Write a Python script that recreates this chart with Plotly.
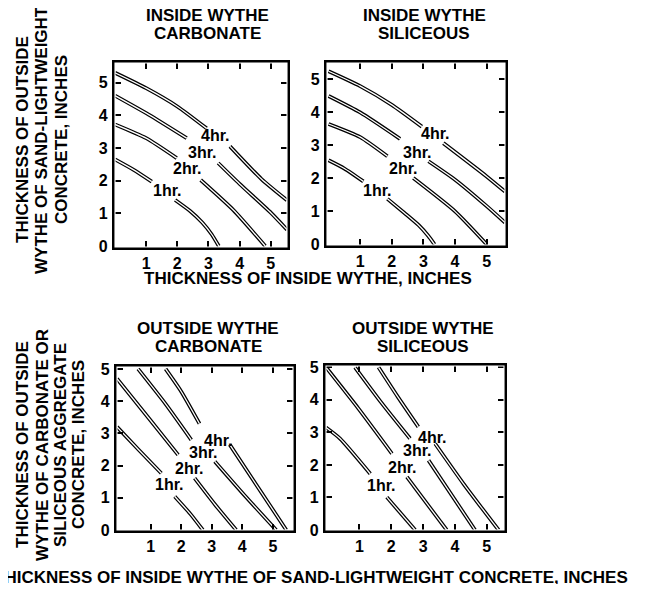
import plotly.graph_objects as go

# The page places the figure 8 px from the top-left corner of the window.
OFF = 8
W, H = 632, 576

hour_labels = ["1hr.", "2hr.", "3hr.", "4hr."]
x_ticks = [1, 2, 3, 4, 5]
y_ticks = [0, 1, 2, 3, 4, 5]

panel_titles = [("INSIDE WYTHE", "CARBONATE"), ("INSIDE WYTHE", "SILICEOUS"),
                ("OUTSIDE WYTHE", "CARBONATE"), ("OUTSIDE WYTHE", "SILICEOUS")]

# ---- Top-left: inside wythe carbonate (each curve = two segments split at its label)
tl_1hr = [[(0, 2.65), (0.6, 2.33), (1.18, 1.97)],
          [(1.93, 1.41), (2.4, 1.08), (2.8, 0.72), (3.1, 0.36), (3.33, 0)]]
tl_2hr = [[(0, 3.72), (1.0, 3.3), (1.98, 2.69)], [(2.75, 2.02), (3.8, 1.1), (4.82, 0)]]
tl_3hr = [[(0, 4.6), (1.08, 4.02), (2.3, 3.3)], [(3.31, 2.54), (4.0, 1.9), (5.0, 1.02), (5.52, 0.5)]]
tl_4hr = [[(0, 5.3), (1.0, 4.83), (2.0, 4.27), (2.94, 3.6)], [(3.69, 3.05), (4.7, 2.05), (5.52, 1.4)]]
tl_label_x = [1.66, 2.3, 2.8, 3.2]
tl_label_y = [1.70, 2.36, 2.87, 3.38]

# ---- Top-right: inside wythe siliceous
tr_1hr = [[(0, 2.55), (0.5, 2.3), (1.1, 1.91)],
          [(1.86, 1.38), (2.4, 0.95), (2.85, 0.58), (3.15, 0.26), (3.35, 0)]]
tr_2hr = [[(0, 3.65), (1.0, 3.25), (1.86, 2.67)], [(2.68, 2.01), (4.0, 1.0), (5.0, 0)]]
tr_3hr = [[(0, 4.5), (1.0, 4.0), (2.26, 3.2)], [(3.16, 2.52), (4.0, 1.96), (5.0, 1.16), (5.58, 0.66)]]
tr_4hr = [[(0, 5.25), (1.0, 4.8), (2.0, 4.23), (2.95, 3.57)], [(3.63, 3.07), (5.0, 2.06), (5.58, 1.6)]]
tr_label_x = [1.53, 2.34, 2.79, 3.37]
tr_label_y = [1.64, 2.29, 2.80, 3.35]

# ---- Bottom-left: outside wythe carbonate
bl_1hr = [[(-0.1, 3.2), (0.6, 2.5), (1.35, 1.76)], [(1.79, 1.04), (2.3, 0.5), (2.71, 0)]]
bl_2hr = [[(-0.1, 4.7), (1.0, 3.4), (1.9, 2.33)], [(2.44, 1.61), (3.1, 0.8), (3.8, 0)]]
bl_3hr = [[(0.59, 5.0), (1.5, 3.9), (2.33, 2.8)], [(3.1, 2.13), (4.1, 1.05), (5.11, 0)]]
bl_4hr = [[(1.49, 5.0), (2.0, 4.3), (2.6, 3.3)], [(3.59, 2.65), (4.35, 1.56), (5.44, 0)]]
bl_label_x = [1.59, 2.25, 2.71, 3.2]
bl_label_y = [1.40, 1.92, 2.42, 2.78]

# ---- Bottom-right: outside wythe siliceous
br_1hr = [[(-0.05, 3.15), (0.39, 2.81), (1.34, 1.73)], [(1.86, 1.01), (2.75, 0)]]
br_2hr = [[(-0.05, 5.0), (0.97, 3.73), (2.02, 2.35)], [(2.49, 1.63), (3.74, 0)]]
br_3hr = [[(0.86, 5.0), (1.7, 3.9), (2.59, 2.81)], [(3.17, 2.14), (4.63, 0)]]
br_4hr = [[(1.6, 5.0), (2.2, 4.1), (2.85, 3.17)], [(3.38, 2.65), (4.27, 1.42), (5.37, 0)]]
br_label_x = [1.67, 2.35, 2.82, 3.29]
br_label_y = [1.37, 1.93, 2.43, 2.84]

panels = [
    dict(curves=[tl_1hr, tl_2hr, tl_3hr, tl_4hr], lx=tl_label_x, ly=tl_label_y,
         xr=[0, 5.52], yr=[-0.03, 5.6], box=(115, 287, 63, 247), title_cx=207),
    dict(curves=[tr_1hr, tr_2hr, tr_3hr, tr_4hr], lx=tr_label_x, ly=tr_label_y,
         xr=[-0.05, 5.58], yr=[-0.02, 5.5], box=(327, 505, 63, 245), title_cx=424),
    dict(curves=[bl_1hr, bl_2hr, bl_3hr, bl_4hr], lx=bl_label_x, ly=bl_label_y,
         xr=[-0.1, 5.66], yr=[0, 5.06], box=(117, 293, 367, 530), title_cx=208),
    dict(curves=[br_1hr, br_2hr, br_3hr, br_4hr], lx=br_label_x, ly=br_label_y,
         xr=[-0.05, 5.54], yr=[0, 5.04], box=(326, 504, 366, 530), title_cx=423),
]
title_rows = [(16, 34), (16, 34), (328, 346), (328, 346)]

FONT = "Liberation Sans"
fig = go.Figure()
annotations = []
shapes = []
layout = dict(width=W, height=H, margin=dict(l=0, r=0, t=0, b=0, pad=0, autoexpand=False),
              paper_bgcolor="white", plot_bgcolor="white", showlegend=False)


def px_x(v):
    return (v - OFF) / W


def px_y(v):
    return 1 - (v - OFF) / H


for i, p in enumerate(panels):
    n = "" if i == 0 else str(i + 1)
    xa, ya = "x" + n, "y" + n
    x0, x1, y0, y1 = p["box"]
    for curve in p["curves"]:
        for seg in curve:
            xs = [pt[0] for pt in seg]
            ys = [pt[1] for pt in seg]
            fig.add_trace(go.Scatter(x=xs, y=ys, mode="lines", xaxis=xa, yaxis=ya,
                                     line=dict(color="black", width=3.8, shape="spline", smoothing=0.6),
                                     hoverinfo="skip"))
            fig.add_trace(go.Scatter(x=xs, y=ys, mode="lines", xaxis=xa, yaxis=ya,
                                     line=dict(color="white", width=1.3, shape="spline", smoothing=0.6),
                                     hoverinfo="skip"))
    for lab, lx, ly in zip(hour_labels, p["lx"], p["ly"]):
        annotations.append(dict(x=lx, y=ly, xref=xa, yref=ya, text=lab, showarrow=False,
                                font=dict(family=FONT, size=16, color="black", weight="bold"),
                                xanchor="center", yanchor="middle"))
    axis_common = dict(showgrid=False, zeroline=False, showline=True, linecolor="black",
                       linewidth=3.4, mirror="allticks", ticks="inside", ticklen=6,
                       tickwidth=1.6, tickcolor="black", automargin=False,
                       tickfont=dict(family=FONT, size=16, color="black", weight="bold"))
    layout["xaxis" + n] = dict(axis_common, domain=[px_x(x0), px_x(x1)], range=p["xr"],
                               anchor=ya, tickvals=x_ticks, ticklabelstandoff=0)
    layout["yaxis" + n] = dict(axis_common, domain=[px_y(y1), px_y(y0)], range=p["yr"],
                               anchor=xa, tickvals=y_ticks, ticklabelstandoff=1)
    shapes.append(dict(type="rect", xref=xa + " domain", yref=ya + " domain",
                       x0=0, x1=1, y0=0, y1=1, line=dict(color="white", width=1.1),
                       layer="above"))
    t1, t2 = panel_titles[i]
    r1, r2 = title_rows[i]
    for txt, ry in ((t1, r1), (t2, r2)):
        annotations.append(dict(x=px_x(p["title_cx"]), y=px_y(ry), xref="paper", yref="paper",
                                text=txt, showarrow=False, xanchor="center", yanchor="middle",
                                font=dict(family=FONT, size=17, color="black", weight="bold")))

# axis titles
annotations.append(dict(x=px_x(308), y=px_y(278), xref="paper", yref="paper",
                        text="THICKNESS OF INSIDE WYTHE, INCHES", showarrow=False,
                        xanchor="center", yanchor="middle",
                        font=dict(family=FONT, size=17, color="black", weight="bold")))
annotations.append(dict(x=px_x(630), y=px_y(577), xref="paper", yref="paper",
                        text="THICKNESS OF INSIDE WYTHE OF SAND-LIGHTWEIGHT CONCRETE, INCHES",
                        showarrow=False, xanchor="right", yanchor="middle",
                        font=dict(family=FONT, size=17, color="black", weight="bold")))

top_ylines = ["THICKNESS OF OUTSIDE", "WYTHE OF SAND-LIGHTWEIGHT", "CONCRETE, INCHES"]
top_ylx = [23, 42, 62]
for txt, cx in zip(top_ylines, top_ylx):
    annotations.append(dict(x=px_x(cx), y=px_y(140), xref="paper", yref="paper", text=txt,
                            showarrow=False, textangle=-90, xanchor="center", yanchor="middle",
                            font=dict(family=FONT, size=17, color="black", weight="bold")))
bot_ylines = ["THICKNESS OF OUTSIDE", "WYTHE OF CARBONATE OR", "SILICEOUS AGGREGATE", "CONCRETE, INCHES"]
bot_ylx = [22, 42, 60, 78]
for txt, cx in zip(bot_ylines, bot_ylx):
    annotations.append(dict(x=px_x(cx), y=px_y(445), xref="paper", yref="paper", text=txt,
                            showarrow=False, textangle=-90, xanchor="center", yanchor="middle",
                            font=dict(family=FONT, size=17, color="black", weight="bold")))

layout["annotations"] = annotations
layout["shapes"] = shapes
fig.update_layout(**layout)
fig.write_html("out.html")
